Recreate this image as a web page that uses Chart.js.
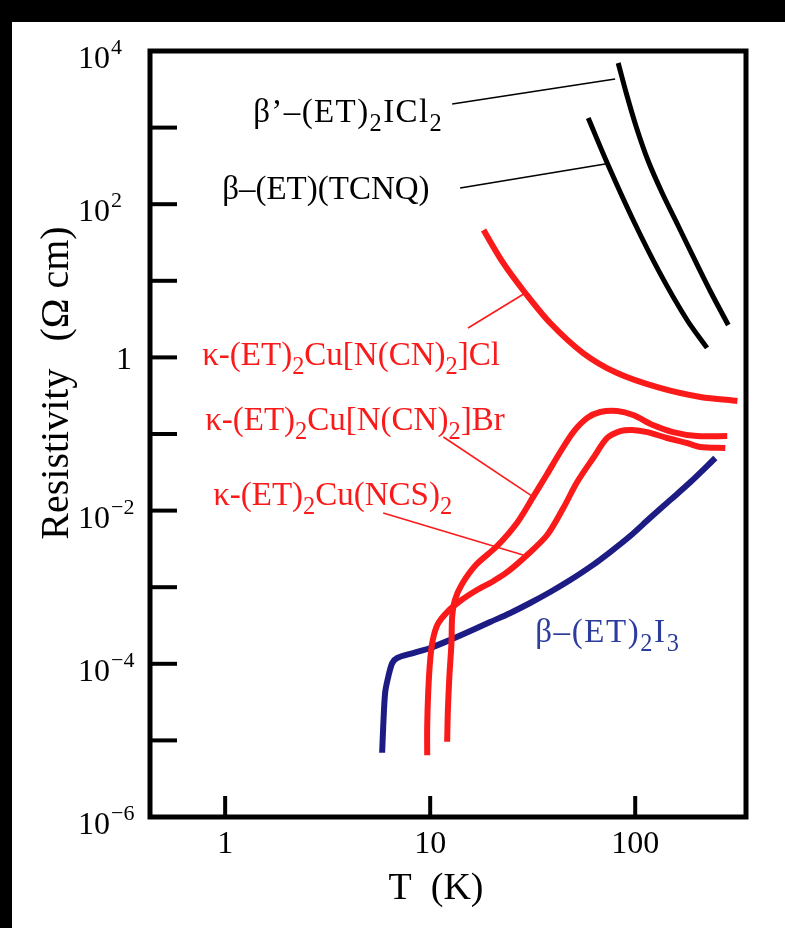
<!DOCTYPE html>
<html>
<head>
<meta charset="utf-8">
<title>Resistivity of (ET) salts</title>
<script src="https://cdn.jsdelivr.net/npm/chart.js@4/dist/chart.umd.min.js"></script>
<style>
  html, body { margin: 0; padding: 0; background: #000; }
  #panel { position: absolute; left: 12px; top: 22px; width: 773px; height: 906px; background: #fff; }
  canvas { display: block; }
</style>
</head>
<body>
<div id="panel"><canvas id="chart" width="773" height="906"></canvas></div>
<script>
// Temperature T (K) and resistivity rho (Ω cm) for each compound
const T_ICl2 = [82.6, 90.4, 101.2, 115.7, 135.4, 162.2, 194.2, 234.9, 284.4];
const R_ICl2 = [6970, 2831, 1019, 366, 140, 51.9, 19.3, 6.93, 2.65];

const T_TCNQ = [59.0, 73.0, 97.7, 132, 179, 224];
const R_TCNQ = [1334, 345, 62.2, 12.6, 3.08, 1.33];

const T_Cl = [18.2, 22.7, 29.1, 38.5, 55.7, 81.6, 132, 208, 315];
const R_Cl = [46.0, 17.1, 6.93, 2.81, 1.14, 0.625, 0.399, 0.304, 0.270];

const T_Br = [12.1, 12.2, 12.4, 12.7, 12.8, 13.2, 14.3, 16.7, 21.2, 26.5, 31.8, 37.2, 43.1, 49.9,
              58.4, 67.5, 81.7, 97.7, 122, 153, 200, 281];
const R_Br = [9.6e-6, 2.5e-5, 6.7e-5, 1.87e-4, 4.1e-4, 6.8e-4, 1.10e-3, 1.95e-3, 3.45e-3, 6.9e-3,
              0.0151, 0.0301, 0.0582, 0.106, 0.162, 0.194, 0.200, 0.177, 0.131, 0.106, 0.094, 0.094];

const T_NCS = [9.67, 9.67, 9.78, 10.0, 10.3, 10.9, 12.1, 14.0, 16.9, 20.0, 23.8, 29.7, 37.2, 44.6,
               52.1, 62.4, 73.0, 84.5, 96.6, 114.6, 143, 179, 208, 275];
const R_NCS = [6.4e-6, 1.5e-5, 4.2e-5, 1.12e-4, 2.05e-4, 3.31e-4, 4.74e-4, 6.6e-4, 9.18e-4, 1.17e-3,
               1.58e-3, 2.63e-3, 4.8e-3, 0.0108, 0.0236, 0.0486, 0.0887, 0.109, 0.113, 0.106,
               0.0887, 0.0763, 0.0676, 0.0657];

const T_I3 = [5.83, 5.90, 6.03, 6.24, 6.53, 6.90, 8.26, 10.0, 12.5, 15.7, 19.6, 24.6, 30.7, 38.5,
              48.2, 60.3, 75.5, 94.5, 118, 148, 186, 246];
const R_I3 = [6.9e-6, 1.5e-5, 4.2e-5, 6.7e-5, 1.02e-4, 1.19e-4, 1.38e-4, 1.61e-4, 2.05e-4, 2.68e-4,
              3.51e-4, 4.61e-4, 6.22e-4, 8.66e-4, 1.24e-3, 1.84e-3, 2.88e-3, 4.66e-3, 8.0e-3,
              0.0137, 0.0236, 0.0486];

// Axis ticks (decades) and their labels
const Y_TICK_POWERS = [3, 2, 1, 0, -1, -2, -3, -4, -5];
const Y_LABEL_POWERS = [4, 2, 0, -2, -4, -6];
const X_TICKS = [1, 10, 100];
const X_TICK_LABELS = ['1', '10', '100'];

const RED = '#fb1a1a';
const NAVY = '#1c1c84';
const LABEL_BLUE = '#2c3c9c';

// Compound names: text pieces (0 = normal, 1 = subscript) with anchor in data units
const NAMES = [
  { parts: [['β’–(ET)', 0], ['2', 1], ['ICl', 0], ['2', 1]], T: 1.37, R: 1180, color: '#000', spacing: 1.4 },
  { parts: [['β–(ET)(TCNQ)', 0]], T: 0.967, R: 117, color: '#000', spacing: 0 },
  { parts: [['κ-(ET)', 0], ['2', 1], ['Cu[N(CN)', 0], ['2', 1], [']Cl', 0]], T: 0.773, R: 0.796, color: RED, spacing: 0 },
  { parts: [['κ-(ET)', 0], ['2', 1], ['Cu[N(CN)', 0], ['2', 1], [']Br', 0]], T: 0.799, R: 0.113, color: RED, spacing: 0 },
  { parts: [['κ-(ET)', 0], ['2', 1], ['Cu(NCS)', 0], ['2', 1]], T: 0.874, R: 0.0118, color: RED, spacing: 0 },
  { parts: [['β–(ET)', 0], ['2', 1], ['I', 0], ['3', 1]], T: 32.5, R: 1.93e-4, color: LABEL_BLUE, spacing: 1.6 }
];

// Leader lines from each name to its curve: [T1, R1, T2, R2]
const LEADERS = [
  { seg: [12.8, 2032, 79.8, 4300], color: '#000' },
  { seg: [14.0, 162.6, 71.4, 335], color: '#000' },
  { seg: [15.3, 2.42, 29.1, 6.93], color: RED },
  { seg: [11.6, 0.0914, 31.8, 0.0151], color: RED },
  { seg: [5.90, 0.0093, 28.4, 0.00263], color: RED }
];

const SERIF = '"Liberation Serif", "DejaVu Serif", serif';

function pts(ts, rs) { return ts.map((t, i) => ({ x: t, y: rs[i] })); }

function curve(label, ts, rs, color, width) {
  return {
    label, data: pts(ts, rs), borderColor: color, borderWidth: width,
    pointRadius: 0, tension: 0.3, fill: false, borderCapStyle: 'butt', borderJoinStyle: 'round'
  };
}

function drawParts(ctx, parts, x, y, size, color, spacing) {
  ctx.fillStyle = color;
  ctx.textBaseline = 'alphabetic';
  ctx.textAlign = 'left';
  if ('letterSpacing' in ctx) ctx.letterSpacing = (spacing || 0) + 'px';
  let cx = x;
  parts.forEach(([txt, kind]) => {
    const s = kind ? size * 0.74 : size;
    ctx.font = s + 'px ' + SERIF;
    const dy = kind === 1 ? size * 0.26 : (kind === 2 ? -size * 0.45 : 0);
    ctx.fillText(txt, cx, y + dy);
    cx += ctx.measureText(txt).width;
  });
  if ('letterSpacing' in ctx) ctx.letterSpacing = '0px';
}

function line(ctx, x1, y1, x2, y2) {
  ctx.beginPath(); ctx.moveTo(x1, y1); ctx.lineTo(x2, y2); ctx.stroke();
}

const decor = {
  id: 'decor',
  afterDatasetsDraw(chart) {
    const { ctx, chartArea: a, scales: { x, y } } = chart;
    ctx.save();

    // leader lines
    ctx.lineWidth = 1.6;
    LEADERS.forEach(l => {
      ctx.strokeStyle = l.color;
      line(ctx, x.getPixelForValue(l.seg[0]), y.getPixelForValue(l.seg[1]),
                x.getPixelForValue(l.seg[2]), y.getPixelForValue(l.seg[3]));
    });

    // compound names
    NAMES.forEach(n => drawParts(ctx, n.parts, x.getPixelForValue(n.T), y.getPixelForValue(n.R), 33, n.color, n.spacing));

    // frame
    ctx.strokeStyle = '#000';
    ctx.lineWidth = 5;
    ctx.lineJoin = 'miter';
    ctx.strokeRect(a.left, a.top, a.right - a.left, a.bottom - a.top);

    // inward ticks
    ctx.lineWidth = 4;
    Y_TICK_POWERS.forEach(p => {
      const py = y.getPixelForValue(Math.pow(10, p));
      line(ctx, a.left, py, a.left + 27, py);
    });
    X_TICKS.forEach(v => {
      const px = x.getPixelForValue(v);
      line(ctx, px, a.bottom, px, a.bottom - 21);
    });

    // y tick labels
    Y_LABEL_POWERS.forEach(p => {
      const py = y.getPixelForValue(Math.pow(10, p));
      ctx.fillStyle = '#000';
      ctx.textBaseline = 'alphabetic';
      if (p === 0) {
        ctx.font = '32px ' + SERIF;
        ctx.textAlign = 'center';
        ctx.fillText('1', a.left - 26, py + 12);
        return;
      }
      ctx.font = '32px ' + SERIF;
      ctx.textAlign = 'right';
      ctx.fillText('10', a.left - 40, py + 17);
      ctx.font = '22px ' + SERIF;
      ctx.textAlign = 'left';
      const sup = p < 0 ? '−' + (-p) : String(p);
      ctx.fillText(sup, a.left - 39, py + 3);
    });

    // x tick labels
    ctx.font = '32px ' + SERIF;
    ctx.textAlign = 'center';
    X_TICKS.forEach((v, i) => ctx.fillText(X_TICK_LABELS[i], x.getPixelForValue(v), a.bottom + 36));

    // axis titles
    ctx.font = '38px ' + SERIF;
    ctx.textAlign = 'center';
    const midX = (a.left + a.right) / 2;
    ctx.fillText('T  (K)', midX - 12, a.bottom + 82);

    ctx.translate(a.left - 82, (a.top + a.bottom) / 2 - 51);
    ctx.rotate(-Math.PI / 2);
    ctx.font = '40px ' + SERIF;
    ctx.textAlign = 'left';
    const w1 = ctx.measureText('Resistivity').width;
    const w2 = ctx.measureText('(Ω cm)').width;
    const gap = 27;
    const start = -(w1 + gap + w2) / 2;
    ctx.fillText('Resistivity', start, 0);
    ctx.fillText('(Ω cm)', start + w1 + gap, 0);
    ctx.restore();
  }
};

new Chart(document.getElementById('chart'), {
  type: 'line',
  data: {
    datasets: [
      curve('β’-(ET)2ICl2', T_ICl2, R_ICl2, '#000', 5),
      curve('β-(ET)(TCNQ)', T_TCNQ, R_TCNQ, '#000', 5),
      curve('κ-(ET)2Cu[N(CN)2]Cl', T_Cl, R_Cl, RED, 6),
      curve('κ-(ET)2Cu[N(CN)2]Br', T_Br, R_Br, RED, 6),
      curve('κ-(ET)2Cu(NCS)2', T_NCS, R_NCS, RED, 6),
      curve('β-(ET)2I3', T_I3, R_I3, NAVY, 6)
    ]
  },
  options: {
    responsive: false,
    animation: false,
    devicePixelRatio: 1,
    layout: { padding: { left: 138, top: 29, right: 39, bottom: 111 } },
    plugins: { legend: { display: false }, tooltip: { enabled: false } },
    scales: {
      x: { type: 'logarithmic', min: 0.43, max: 347, display: false },
      y: { type: 'logarithmic', min: 1e-6, max: 1e4, display: false }
    }
  },
  plugins: [decor]
});
</script>
</body>
</html>
